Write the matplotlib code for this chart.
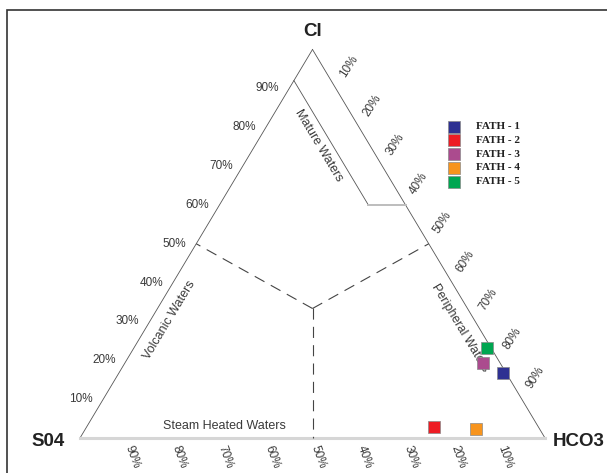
"""Giggenbach Cl-SO4-HCO3 ternary diagram for the FATH samples."""
import matplotlib

matplotlib.use("Agg")
import matplotlib.pyplot as plt  # noqa: E402
from matplotlib.patches import Rectangle  # noqa: E402

# --- data (percent of Cl + SO4 + HCO3) ---
samples = ["FATH - 1", "FATH - 2", "FATH - 3", "FATH - 4", "FATH - 5"]
cl_pct = [16.7, 2.9, 19.2, 2.2, 23.2]
so4_pct = [0.6, 22.4, 3.7, 13.8, 0.9]
hco3_pct = [82.7, 74.7, 77.1, 84.0, 75.9]
colors = ["#2e3192", "#ed1c24", "#ab4b8e", "#f7941d", "#00a651"]
tick_pct = [10, 20, 30, 40, 50, 60, 70, 80, 90]

SANS = "Liberation Sans"
SERIF = "Liberation Serif"
TXT = "#3a3a3a"


def tern(cl, so4, hco3):
    tot = cl + so4 + hco3
    return (hco3 + 0.5 * cl) / tot, cl / tot


def seg(ax, a, b, **kw):
    (x0, y0), (x1, y1) = tern(*a), tern(*b)
    return ax.plot([x0, x1], [y0, y1], **kw)[0]


fig = plt.figure(figsize=(6.07, 4.73), dpi=100)
ax = fig.add_axes([0, 0, 1, 1])
# triangle base spans 465 px, height 388.5 px
ax.set_xlim(-80 / 465, 527 / 465)
ax.set_ylim(-35 / 388.5, 438 / 388.5)
ax.axis("off")

# frame around the figure (cut off on the right and bottom like the scan)
fig.patches.append(Rectangle((7 / 607, -0.2), 1.3, 1.2 - 10 / 473,
                             transform=fig.transFigure, fill=False,
                             ec="#333333", lw=1.2))

# triangle sides
seg(ax, (0, 100, 0), (100, 0, 0), color="#555555", lw=0.6)
seg(ax, (100, 0, 0), (0, 0, 100), color="#555555", lw=0.6)
seg(ax, (0, 100, 0), (0, 0, 100), color="#d6d6d6", lw=2.2)

# mature waters field
seg(ax, (92, 8, 0), (60, 8, 32), color="#555555", lw=0.6)
seg(ax, (60, 8, 32), (60, 0, 40), color="#bdbdbd", lw=1.4)

# dashed field boundaries from the centroid
c = (100 / 3, 100 / 3, 100 / 3)
for end in [(50, 50, 0), (50, 0, 50), (0, 50, 50)]:
    ln = seg(ax, c, end, color="#444444", lw=0.8)
    ln.set_dashes((10, 6.5))

# percentage labels
for p in tick_pct:
    ax.annotate(f"{p}%", tern(p, 100 - p, 0), xytext=(-22, 0),
                textcoords="offset pixels", ha="center", va="center",
                fontsize=8.5, family=SANS, color=TXT)
    ax.annotate(f"{p}%", tern(100 - p, 0, p), xytext=(13.5, 21.5),
                textcoords="offset pixels", ha="center", va="center",
                rotation=57, fontsize=8.5, family=SANS, color=TXT)
    ax.annotate(f"{p}%", tern(0, p, 100 - p), xytext=(6, -19),
                textcoords="offset pixels", ha="center", va="center",
                rotation=-70, fontsize=8.5, family=SANS, color=TXT)

# vertex labels
vk = dict(textcoords="offset pixels", fontsize=13.5, family=SANS,
          weight="bold", color="#222222", va="center")
ax.annotate("Cl", tern(100, 0, 0), xytext=(0, 18), ha="center", **vk)
ax.annotate("S04", tern(0, 100, 0), xytext=(-15, -3), ha="right", **vk)
ax.annotate("HCO3", tern(0, 0, 100), xytext=(8, -3.5), ha="left", **vk)

# field names
fk = dict(fontsize=9, family=SANS, color=TXT, ha="center", va="center",
          rotation_mode="anchor")
ax.text(319 / 465 - 80 / 465, (438 - 146) / 388.5, "Mature Waters",
        rotation=-59, **fk)
ax.text((170 - 80) / 465, (438 - 320) / 388.5, "Volcanic Waters",
        rotation=59, **fk)
ax.text((460 - 80) / 465, (438 - 328) / 388.5, "Peripheral Waters",
        rotation=-59, **fk)
ax.text((224 - 80) / 465, (438 - 426) / 388.5, "Steam Heated Waters", **fk)

# samples
for name, cl, so4, hc, col in zip(samples, cl_pct, so4_pct, hco3_pct, colors):
    x, y = tern(cl, so4, hc)
    ax.scatter([x], [y], marker="s", s=76, color=col, edgecolors="#8a8a8a",
               linewidths=0.5, zorder=5)

# legend key (drawn by hand to sit like the original)
for i, (name, col) in enumerate(zip(samples, colors)):
    ly = 1 - (126.7 + 13.7 * i) / 473
    ax.scatter([454 / 607], [ly], marker="s", s=70, color=col,
               edgecolors="#8a8a8a", linewidths=0.5, transform=ax.transAxes,
               zorder=5)
    ax.text(476.5 / 607, ly, name, transform=ax.transAxes, ha="left",
            va="center", fontsize=8, family=SERIF, weight="bold",
            color="#222222")

fig.savefig("out.png", dpi=100)
